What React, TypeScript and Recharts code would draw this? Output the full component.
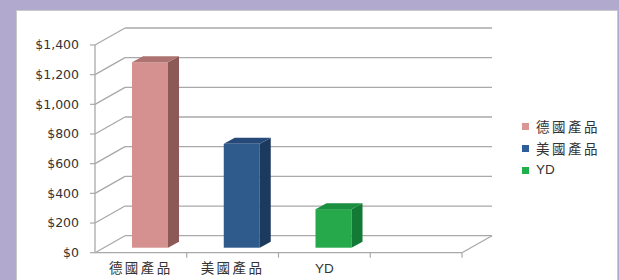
import React from 'react';
import { BarChart, Bar, XAxis, YAxis, CartesianGrid, Legend } from 'recharts';

const categories = ['德國產品', '美國產品', 'YD', ''];
const seriesNames = ['德國產品', '美國產品', 'YD'];
const seriesKeys = ['de', 'us', 'yd'];
const seriesValues = [1250, 700, 260];
const yTicks = [0, 200, 400, 600, 800, 1000, 1200, 1400];
const frontColors = ['#d4918f', '#2f5b8c', '#26a94b'];
const sideColors = ['#8c5957', '#1c3a5e', '#127a35'];
const topColors = ['#ad7371', '#254a7a', '#1b8f40'];
const legendColors = ['#d99694', '#2e5e9a', '#1fb04a'];

const data = categories.map((c, i) => {
  const row: any = { name: c };
  seriesKeys.forEach((k, j) => {
    if (j === i) row[k] = seriesValues[j];
  });
  return row;
});

const WALL_DX = 30;
const WALL_DY = 17;
const BAR_DX = 9;
const BAR_DY = 5;
const DEPTH_DX = 11;
const DEPTH_DY = 6;
const GRID = '#a9a9a9';
const CJK = '"Noto Sans CJK TC", "Noto Sans", sans-serif';

const makeShape = (j: number) => (props: any) => {
  const { x, y, width, height } = props;
  if (height == null || !(height > 0) || x == null) return <g />;
  const fx = x + BAR_DX;
  const fy = y - BAR_DY;
  const w = width;
  const h = height;
  const top = `${fx},${fy} ${fx + DEPTH_DX},${fy - DEPTH_DY} ${fx + w + DEPTH_DX},${fy - DEPTH_DY} ${fx + w},${fy}`;
  const side = `${fx + w},${fy} ${fx + w + DEPTH_DX},${fy - DEPTH_DY} ${fx + w + DEPTH_DX},${fy + h - DEPTH_DY} ${fx + w},${fy + h}`;
  return (
    <g>
      <rect x={fx} y={fy} width={w} height={h} fill={frontColors[j]} />
      <polygon points={side} fill={sideColors[j]} />
      <polygon points={top} fill={topColors[j]} />
    </g>
  );
};

const gridLine = (p: any) => {
  const { x1, y1, x2 } = p;
  const isFloor =
    p.y != null && p.height != null ? Math.abs(y1 - (p.y + p.height)) < 1 : p.index === 0;
  return (
    <g key={p.key ?? `g-${y1}`}>
      <line x1={x1} y1={y1} x2={x1 + WALL_DX} y2={y1 - WALL_DY} stroke={GRID} strokeWidth={1.3} />
      <line x1={x1 + WALL_DX} y1={y1 - WALL_DY} x2={x2 + WALL_DX} y2={y1 - WALL_DY} stroke={GRID} strokeWidth={1.3} />
      {isFloor && (
        <line x1={x2} y1={y1} x2={x2 + WALL_DX} y2={y1 - WALL_DY} stroke={GRID} strokeWidth={1.3} />
      )}
    </g>
  );
};

const XTick = (props: any) => {
  const { x, y, payload } = props;
  const axisY = y - 11;
  const off = payload && payload.offset != null ? payload.offset : 0;
  const isCjk = /[\u4e00-\u9fff]/.test(String(payload.value));
  return (
    <g>
      <line x1={x + off} y1={axisY} x2={x + off} y2={axisY + 5} stroke={GRID} strokeWidth={1.2} />
      <text
        x={x}
        y={y}
        dy="0.71em"
        textAnchor="middle"
        fill="#333"
        fontSize={13.5}
        letterSpacing={isCjk ? 2.5 : 0}
        fontFamily={isCjk ? CJK : '"Liberation Sans", Arial, sans-serif'}
      >
        {payload.value}
      </text>
    </g>
  );
};

const LegendContent = () => (
  <div style={{ display: 'flex', flexDirection: 'column' }}>
    {seriesNames.map((n, i) => (
      <div key={n} style={{ display: 'flex', alignItems: 'center', height: 22 }}>
        <div style={{ width: 7, height: 7, background: legendColors[i], marginRight: 7 }} />
        <span
          style={{
            fontSize: 13.5,
            color: '#333',
            letterSpacing: /[\u4e00-\u9fff]/.test(n) ? 2.5 : 0,
            fontFamily: /[\u4e00-\u9fff]/.test(n) ? CJK : '"Liberation Sans", Arial, sans-serif',
            lineHeight: '22px',
          }}
        >
          {n}
        </span>
      </div>
    ))}
  </div>
);

export default function App() {
  return (
    <div style={{ position: 'absolute', left: 0, top: 0, width: 619, height: 280, background: '#b2a9cf', overflow: 'hidden' }}>
      <div
        style={{
          position: 'absolute',
          left: 16,
          top: 10,
          width: 600,
          height: 272,
          background: '#fff',
          border: '1px solid #c9c9c9',
        }}
      />
      <div style={{ position: 'absolute', left: 0, top: 0 }}>
        <BarChart
          width={619}
          height={280}
          data={data}
          margin={{ top: 45, right: 157, bottom: 2.3, left: 35 }}
          barSize={36}
        >
          <CartesianGrid vertical={false} horizontal={gridLine as any} />
          <XAxis
            dataKey="name"
            interval={0}
            height={25}
            tickSize={5}
            tickMargin={6}
            axisLine={{ stroke: GRID, strokeWidth: 1.3 }}
            tickLine={{ stroke: 'none' }}
            tick={<XTick />}
          />
          <YAxis
            domain={[0, 1400]}
            ticks={yTicks}
            interval={0}
            width={60}
            tickSize={5}
            tickMargin={11}
            axisLine={{ stroke: GRID, strokeWidth: 1.3 }}
            tickLine={{ stroke: GRID, strokeWidth: 1.2 }}
            tickFormatter={(v: number) => '$' + v.toLocaleString('en-US')}
            tick={{ fill: '#333', fontSize: 12.5, fontFamily: '"DejaVu Sans", sans-serif' }}
          />
          <Legend
            layout="vertical"
            align="center"
            verticalAlign="middle"
            content={<LegendContent />}
            wrapperStyle={{ position: 'absolute', left: 522, top: 115, width: 90 }}
          />
          {seriesKeys.map((k, j) => (
            <Bar
              key={k}
              dataKey={k}
              name={seriesNames[j]}
              stackId="s"
              fill={frontColors[j]}
              shape={makeShape(j)}
              isAnimationActive={false}
            />
          ))}
        </BarChart>
      </div>
    </div>
  );
}
